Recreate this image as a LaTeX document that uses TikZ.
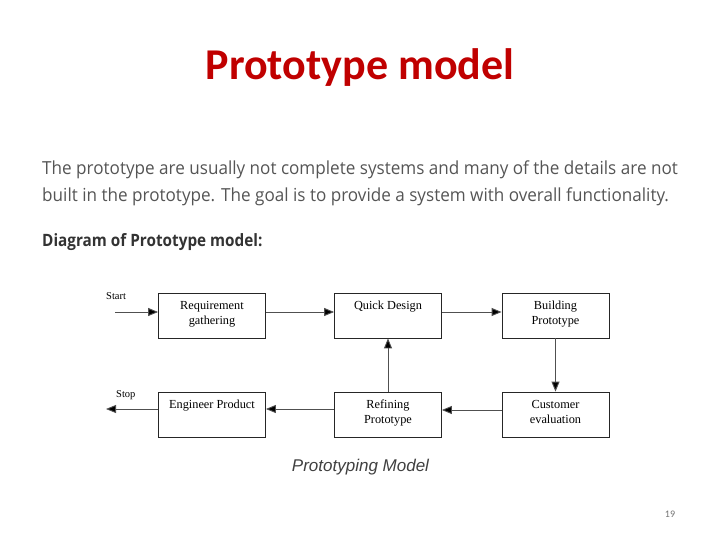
\documentclass[tikz,border=0pt]{standalone}
\usepackage{fontspec}
\setmainfont{Liberation Serif}
\newfontfamily\titlefont{Carlito}
\newfontfamily\bodyfont[FakeStretch=0.95]{Open Sans}
\newfontfamily\headfont[FakeStretch=0.9]{Open Sans}
\newfontfamily\capfont{Liberation Sans}
\usetikzlibrary{arrows.meta}
\definecolor{titlered}{HTML}{C00000}
\definecolor{bodygrey}{HTML}{555555}
\definecolor{linegrey}{HTML}{505050}
\tikzset{
  box/.style={draw=black!85, line width=0.8pt, minimum width=107pt, minimum height=45pt, inner sep=0pt},
  lbl/.style={font=\fontsize{12.3}{15}\selectfont, align=center, anchor=north, inner sep=0pt},
  flow/.style={draw=linegrey, line width=0.9pt, -{Triangle[width=8pt,length=10pt,fill=black]}},
  side/.style={font=\fontsize{10.5}{12}\selectfont, anchor=west, inner sep=0pt},
}
\begin{document}
\begin{tikzpicture}[x=1pt,y=-1pt]
\useasboundingbox (0,0) rectangle (720,540);
\node[font=\titlefont\bfseries\fontsize{44}{46}\selectfont, text=titlered] (title) at (360,68) {Prototype model};
\node[font=\bodyfont\fontsize{18}{20}\selectfont, text=bodygrey, anchor=west, inner sep=0pt] (l1) at (42,170) {The prototype are usually not complete systems and many of the details are not};
\node[font=\bodyfont\fontsize{18}{20}\selectfont, text=bodygrey, anchor=west, inner sep=0pt] (l2) at (42,197) {built in the prototype. The goal is to provide a system with overall functionality.};
\node[font=\headfont\bfseries\fontsize{17}{20}\selectfont, text=black!80, anchor=west, inner sep=0pt] (l3) at (42,242) {Diagram of Prototype model:};

\node[box] (req) at (212,315.5) {};
\node[box] (qd) at (388,315.5) {};
\node[box] (bp) at (555.5,315.5) {};
\node[box] (ep) at (212,414.5) {};
\node[box] (rp) at (388,414.5) {};
\node[box] (ce) at (555.5,414.5) {};

\node[lbl] (treq) at ([yshift=-8.5pt]req.north) {Requirement\\gathering};
\node[lbl] (tqd) at ([yshift=-8.5pt]qd.north) {Quick Design};
\node[lbl] (tbp) at ([yshift=-8.5pt]bp.north) {Building\\Prototype};
\node[lbl] (tep) at ([yshift=-8.5pt]ep.north) {Engineer Product};
\node[lbl] (trp) at ([yshift=-8.5pt]rp.north) {Refining\\Prototype};
\node[lbl] (tce) at ([yshift=-8.5pt]ce.north) {Customer\\evaluation};

\node[side] (start) at (106,296) {Start};
\node[side] (stop) at (116,395) {Stop};
\coordinate (sin) at (115,312);
\coordinate (sout) at (106,409);

\draw[flow] (sin) -- (sin -| req.west);
\draw[flow] ([yshift=3.5pt]req.east) -- ([yshift=3.5pt]qd.west);
\draw[flow] ([yshift=3.5pt]qd.east) -- ([yshift=3.5pt]bp.west);
\draw[flow] (bp.south) -- (ce.north);
\draw[flow] ([yshift=4.5pt]ce.west) -- ([yshift=4.5pt]rp.east);
\draw[flow] (rp.north) -- (qd.south);
\draw[flow] ([yshift=5.5pt]rp.west) -- ([yshift=5.5pt]ep.east);
\draw[flow] (ep.west |- sout) -- (sout);

\node[font=\capfont\itshape\fontsize{17}{18}\selectfont, text=black!75] (cap) at (360.5,467) {Prototyping Model};
\node[font=\titlefont\fontsize{10}{12}\selectfont, text=black!55] (pg) at (670,514) {19};
\end{tikzpicture}
\end{document}
